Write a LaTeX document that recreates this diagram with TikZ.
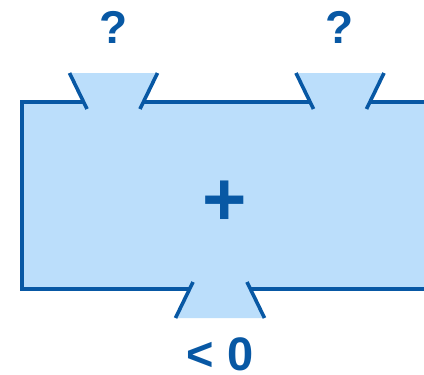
\documentclass[tikz,border=0pt]{standalone}
\usepackage{fontspec}
\setmainfont{Liberation Sans}
\definecolor{edgeblue}{RGB}{8,88,164}
\definecolor{fillblue}{RGB}{187,222,251}
\begin{document}
\begin{tikzpicture}[x=1pt,y=-1pt,
    edge/.style={draw=edgeblue,line width=3.6pt},
    body/.style={fill=fillblue},
    sign/.style={text=edgeblue,font=\bfseries\fontsize{46}{50}\selectfont,inner sep=0pt}]
  \useasboundingbox (0,0) rectangle (424,375);
  % Adder body
  \fill[body] (22,102) rectangle (430,289);
  \draw[edge] (430,102) -- (369.5,102);
  \draw[edge] (309.7,102) -- (143.3,102);
  \draw[edge] (83.7,102) -- (22,102) -- (22,289) -- (189.6,289);
  \draw[edge] (250.4,289) -- (430,289);
  \node[sign,font=\bfseries\fontsize{76}{80}\selectfont] (plus) at (225,203) {+};
  % Left input
  \begin{scope}[xshift=113.5]
    \fill[body] (-44,73) -- (44,73) -- (26.5,109) -- (-26.5,109) -- cycle;
    \draw[edge] (-44,73) -- (-26.5,109);
    \draw[edge] (44,73) -- (26.5,109);
    \node[sign] (inA) at (0,27) {?};
  \end{scope}
  % Right input
  \begin{scope}[xshift=340]
    \fill[body] (-44,73) -- (44,73) -- (26.5,109) -- (-26.5,109) -- cycle;
    \draw[edge] (-44,73) -- (-26.5,109);
    \draw[edge] (44,73) -- (26.5,109);
    \node[sign] (inB) at (0,27) {?};
  \end{scope}
  % Output
  \begin{scope}[xshift=220]
    \fill[body] (-27,282) -- (27,282) -- (44.5,318) -- (-44.5,318) -- cycle;
    \draw[edge] (-27,282) -- (-44.5,318);
    \draw[edge] (27,282) -- (44.5,318);
    \node[sign,font=\bfseries\fontsize{47}{50}\selectfont] (out) at (0,354) {< 0};
  \end{scope}
\end{tikzpicture}
\end{document}
